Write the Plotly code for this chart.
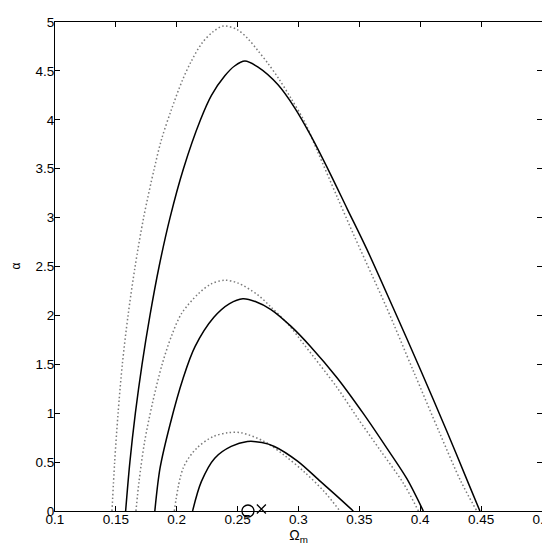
import plotly.graph_objects as go

# ---- data ----
outer_solid_x = [0.158, 0.1615, 0.166, 0.1715, 0.178, 0.1855, 0.1945, 0.2055, 0.2195, 0.2285,
                 0.2395, 0.2475, 0.256, 0.2665, 0.283, 0.297, 0.310, 0.326, 0.340, 0.356,
                 0.378, 0.400, 0.422, 0.440, 0.449]
outer_solid_y = [0.0, 0.5, 1.0, 1.5, 2.0, 2.5, 3.0, 3.5, 4.0, 4.25,
                 4.45, 4.55, 4.60, 4.54, 4.36, 4.12, 3.84, 3.45, 3.09, 2.68,
                 2.07, 1.45, 0.81, 0.27, 0.0]

outer_dot_x = [0.1468, 0.149, 0.1518, 0.1553, 0.160, 0.1658, 0.1728, 0.1815, 0.1875, 0.1955,
               0.2045, 0.212, 0.2205, 0.2298, 0.2385, 0.250, 0.2584, 0.2665, 0.2747, 0.2838,
               0.2938, 0.305, 0.3155, 0.3318, 0.3455, 0.3604, 0.3727, 0.3944, 0.4162, 0.4335,
               0.4465]
outer_dot_y = [0.0, 0.5, 1.0, 1.5, 2.0, 2.5, 3.0, 3.5, 3.8, 4.1,
               4.4, 4.6, 4.78, 4.9, 4.96, 4.92, 4.83, 4.71, 4.58, 4.42,
               4.22, 3.98, 3.68, 3.21, 2.82, 2.41, 2.07, 1.43, 0.79, 0.30,
               0.0]

mid_solid_x = [0.182, 0.1863, 0.1944, 0.2053, 0.215, 0.2305, 0.2434, 0.2543, 0.265, 0.2774,
               0.2937, 0.310, 0.3318, 0.3536, 0.3727, 0.389, 0.4025]
mid_solid_y = [0.0, 0.44, 0.88, 1.36, 1.68, 1.98, 2.12, 2.17, 2.14, 2.06,
               1.89, 1.68, 1.36, 0.99, 0.64, 0.33, 0.0]

mid_dot_x = [0.1665, 0.169, 0.1735, 0.180, 0.188, 0.196, 0.204, 0.2176, 0.228, 0.2393, 0.2504,
             0.2665, 0.277, 0.2915, 0.3047, 0.3318, 0.348, 0.3672, 0.3863, 0.3985]
mid_dot_y = [0.0, 0.3, 0.7, 1.1, 1.5, 1.8, 2.02, 2.22, 2.32, 2.36, 2.33,
             2.21, 2.09, 1.91, 1.70, 1.26, 0.96, 0.62, 0.28, 0.0]

in_solid_x = [0.213, 0.2202, 0.2312, 0.2447, 0.258, 0.270, 0.2802, 0.2992, 0.3182, 0.3318, 0.345]
in_solid_y = [0.0, 0.30, 0.54, 0.66, 0.71, 0.70, 0.66, 0.51, 0.30, 0.15, 0.0]

in_dot_x = [0.198, 0.2053, 0.2162, 0.2298, 0.242, 0.2529, 0.272, 0.2883, 0.3047, 0.321, 0.334]
in_dot_y = [0.0, 0.44, 0.64, 0.76, 0.80, 0.80, 0.71, 0.57, 0.40, 0.20, 0.0]

circle_pt = (0.2585, 0.0)
cross_pt = (0.2695, 0.02)

x_ticks = [0.1, 0.15, 0.2, 0.25, 0.3, 0.35, 0.4, 0.45, 0.5]
x_tick_labels = ["0.1", "0.15", "0.2", "0.25", "0.3", "0.35", "0.4", "0.45", "0.5"]
y_ticks = [0, 0.5, 1, 1.5, 2, 2.5, 3, 3.5, 4, 4.5, 5]
y_tick_labels = ["0", "0.5", "1", "1.5", "2", "2.5", "3", "3.5", "4", "4.5", "5"]

FONT = "Liberation Sans, Arial, sans-serif"

fig = go.Figure()

solid = dict(color="black", width=1.5)
dotted = dict(color="#7a7a7a", width=1.5, dash="1.5px,2.4px")

for xs, ys in [(outer_dot_x, outer_dot_y), (mid_dot_x, mid_dot_y), (in_dot_x, in_dot_y)]:
    fig.add_trace(go.Scatter(x=xs, y=ys, mode="lines", line=dict(**dotted, shape="spline", smoothing=0.9),
                             showlegend=False, hoverinfo="skip"))
for xs, ys in [(outer_solid_x, outer_solid_y), (mid_solid_x, mid_solid_y), (in_solid_x, in_solid_y)]:
    fig.add_trace(go.Scatter(x=xs, y=ys, mode="lines", line=dict(**solid, shape="spline", smoothing=0.9),
                             showlegend=False, hoverinfo="skip"))

fig.add_trace(go.Scatter(x=[circle_pt[0]], y=[circle_pt[1]], mode="markers", cliponaxis=False,
                         marker=dict(symbol="circle-open", size=12, color="black", line=dict(width=1.3)),
                         showlegend=False))
fig.add_trace(go.Scatter(x=[cross_pt[0]], y=[cross_pt[1]], mode="markers", cliponaxis=False,
                         marker=dict(symbol="x-thin-open", size=9, color="black", line=dict(width=1.3, color="black")),
                         showlegend=False))

axis_common = dict(showgrid=False, zeroline=False, showline=True, linecolor="black", linewidth=1,
                   mirror="ticks", ticks="inside", ticklen=5, tickcolor="black", tickwidth=1,
                   automargin=False,
                   tickfont=dict(family=FONT, size=13.5, color="black"))

fig.update_xaxes(range=[0.1, 0.5], tickvals=x_ticks, ticktext=x_tick_labels, ticklabelstandoff=-4,
                 title=dict(text="Ω<sub>m</sub>", font=dict(family=FONT, size=14, color="black"), standoff=0),
                 **axis_common)
fig.update_yaxes(range=[0, 5], tickvals=y_ticks, ticktext=y_tick_labels, ticklabelstandoff=-3,
                 **axis_common)

# y-axis label placed as in the reference (far left edge)
fig.add_annotation(text="α", xref="paper", yref="paper", x=-0.082, y=0.5,
                   xanchor="center", yanchor="middle", textangle=-90, showarrow=False,
                   font=dict(family=FONT, size=12, color="black"))

fig.update_layout(template="none", width=550, height=550, margin=dict(l=47, r=16, t=14, b=47),
                  paper_bgcolor="white", plot_bgcolor="white",
                  font=dict(family=FONT, size=13, color="black"))

fig.write_html("out.html")
